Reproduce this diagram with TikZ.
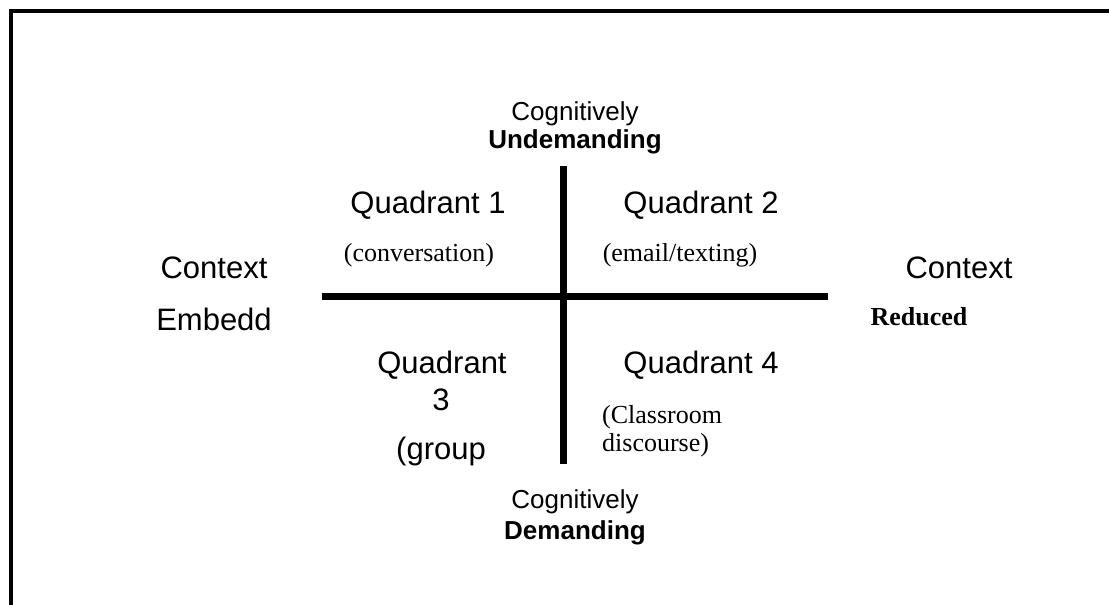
\documentclass[tikz,border=0pt]{standalone}
\usepackage{fontspec}
\setmainfont{Liberation Serif}
\setsansfont{Liberation Sans}
\begin{document}
\begin{tikzpicture}[x=1pt,y=-1pt,
	lbl/.style={inner sep=0pt, anchor=base, font=\sffamily\fontsize{31}{37}\selectfont},
	cog/.style={inner sep=0pt, anchor=base, font=\sffamily\fontsize{26}{31}\selectfont},
	cogb/.style={cog, font=\sffamily\bfseries\fontsize{26}{31}\selectfont},
	eg/.style={inner sep=0pt, anchor=base, font=\rmfamily\fontsize{26}{30}\selectfont},
	axis/.style={line width=7pt}]
	\useasboundingbox (0,0) rectangle (1109,605);
	\draw[line width=4pt] (1109,11) -- (11,11) -- (11,605);

	\coordinate (top) at (563,166);
	\coordinate (bottom) at (563,464);
	\coordinate (left) at (322,296);
	\coordinate (right) at (828,296);
	\draw[axis] (left) -- (right);
	\draw[axis] (top) -- (bottom);

	\node[cog] (cogtop) at (575,120) {Cognitively};
	\node[cogb] (undem) at (575,148) {Undemanding};
	\node[lbl] (q1) at (428,213) {Quadrant 1};
	\node[lbl] (q2) at (701,213) {Quadrant 2};
	\node[eg] (conv) at (419,261) {(conversation)};
	\node[eg] (email) at (680,261) {(email/texting)};
	\node[lbl] (ctxl) at (214,278) {Context};
	\node[lbl] (embed) at (214,330) {Embedd};
	\node[lbl] (ctxr) at (959,278) {Context};
	\node[eg, font=\rmfamily\bfseries\fontsize{26}{30}\selectfont] (red) at (919,325) {Reduced};
	\node[lbl] (q3) at (442,373) {Quadrant};
	\node[lbl] (q3num) at (441,410) {3};
	\node[lbl] (group) at (441,459) {(group};
	\node[lbl] (q4) at (701,373) {Quadrant 4};
	\node[eg, anchor=base west] (class) at (602,423) {(Classroom};
	\node[eg, anchor=base west] (disc) at (602,451) {discourse)};
	\node[cog] (cogbot) at (575,508) {Cognitively};
	\node[cogb] (dem) at (575,539) {Demanding};
\end{tikzpicture}
\end{document}
